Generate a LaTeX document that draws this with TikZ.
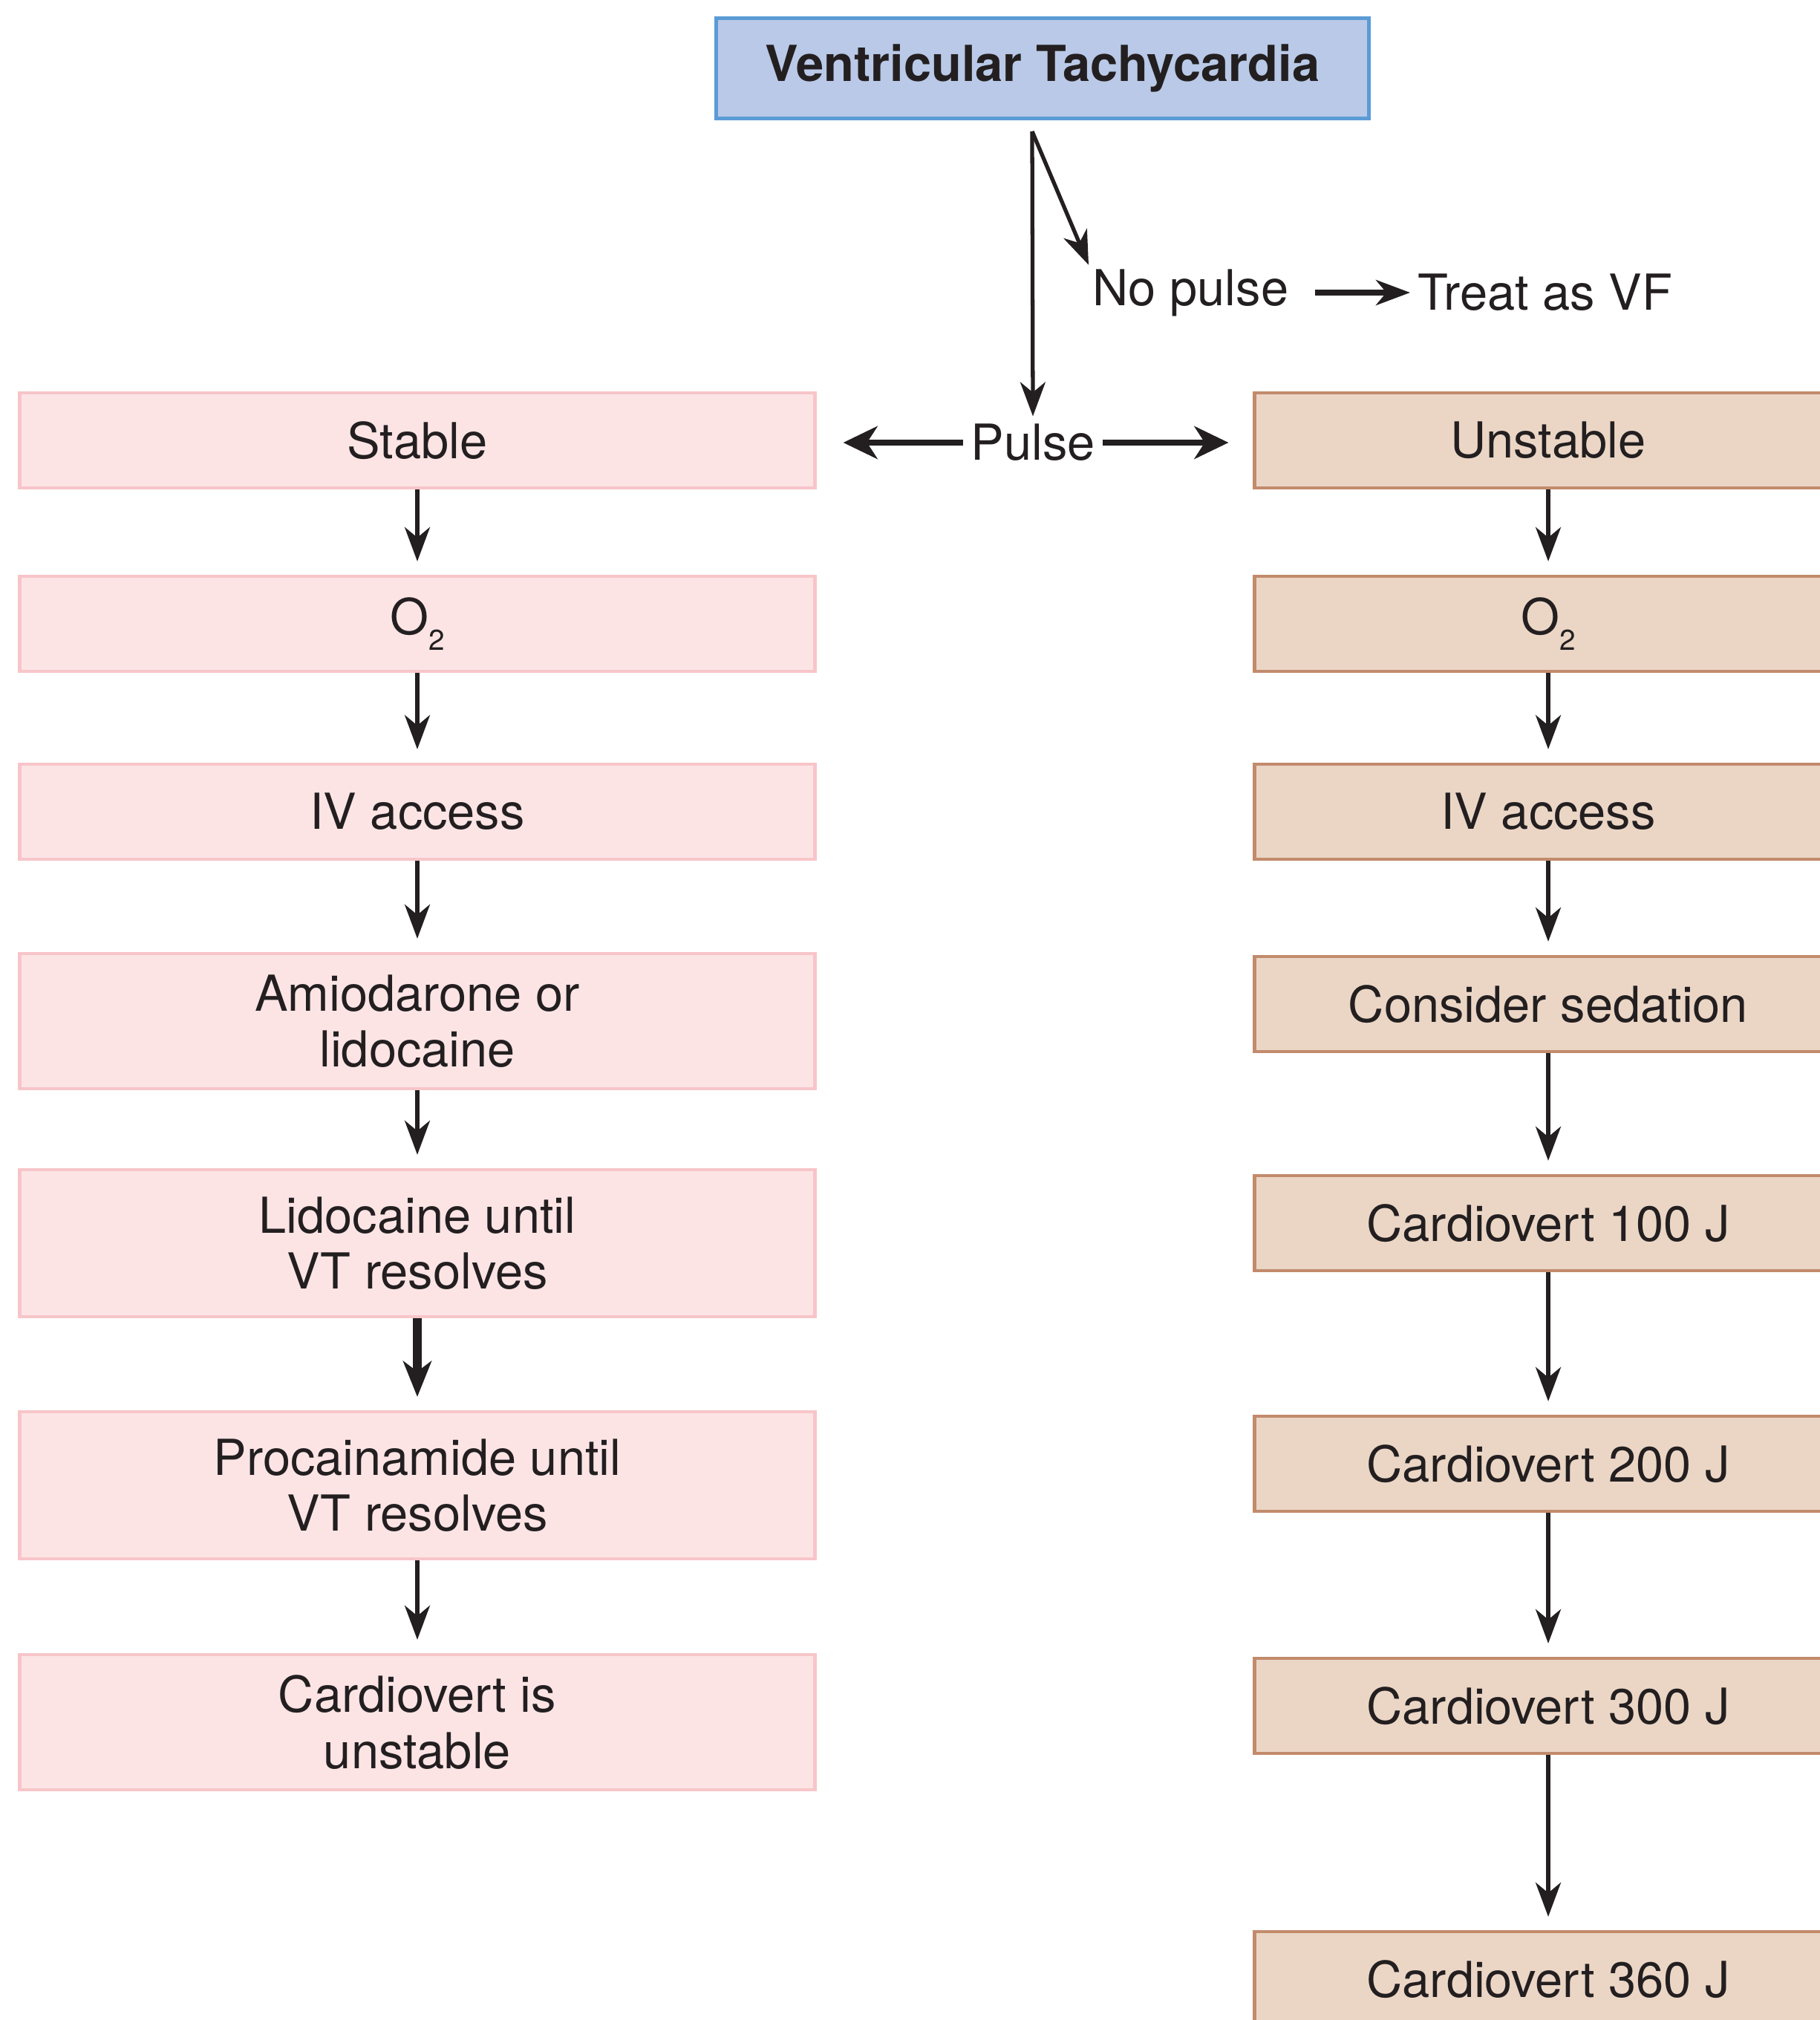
\documentclass[tikz,border=0pt]{standalone}
\usepackage{fontspec}
\setmainfont{TeX Gyre Heros}
\usepackage{tikz}
\usetikzlibrary{arrows.meta,calc}
\definecolor{tbfill}{HTML}{B9C9E7}
\definecolor{tbdraw}{HTML}{5B9BD5}
\definecolor{stfill}{HTML}{FCE4E5}
\definecolor{stdraw}{HTML}{F7C5C9}
\definecolor{unfill}{HTML}{EBD6C6}
\definecolor{undraw}{HTML}{C28B6C}
\definecolor{ink}{HTML}{231F20}
\newcommand{\oxy}{O\raisebox{-6pt}{\fontsize{11}{11}\selectfont 2}}
\tikzstyle{title} = [rectangle, minimum width=8.79cm, minimum height=1.35cm, text centered, draw=tbdraw, fill=tbfill, line width=1.2pt, font=\fontsize{19}{21.5}\selectfont\bfseries]
\tikzstyle{stbox} = [rectangle, minimum width=10.71cm, minimum height=1.28cm, align=center, draw=stdraw, fill=stfill, line width=1.2pt]
\tikzstyle{unbox} = [rectangle, minimum width=7.91cm, minimum height=1.28cm, align=center, draw=undraw, fill=unfill, line width=1.2pt]
\tikzstyle{arr} = [-{Stealth[length=4.6mm,width=3.4mm,inset=1.4mm]}, draw=ink, line width=1.5pt]

\begin{document}
\begin{tikzpicture}[font=\fontsize{19}{21.5}\selectfont, text=ink]
				\useasboundingbox (0,0) rectangle (24.5,-27.2);
				\node[title] (vt) at (14.04,-0.92) {Ventricular Tachycardia};
				\node[inner sep=1mm] (pulse) at (13.91,-5.96) {Pulse};
				\node[anchor=west, inner sep=0.5mm] (nopulse) at (14.66,-3.94) {No pulse};
				\node[anchor=west, inner sep=0.5mm] (vf) at (19.04,-3.94) {Treat as VF};
				\coordinate (split) at (13.90,-1.77);
				
				\node[stbox] (st1) at (5.62,-5.93) {Stable};
				\node[stbox] (st2) at (5.62,-8.40) {\oxy};
				\node[stbox] (st3) at (5.62,-10.93) {IV access};
				\node[stbox, minimum height=1.82cm] (st4) at (5.62,-13.75) {Amiodarone or\\lidocaine};
				\node[stbox, minimum height=1.98cm] (st5) at (5.62,-16.74) {Lidocaine until\\VT resolves};
				\node[stbox, minimum height=1.98cm] (st6) at (5.62,-20.00) {Procainamide until\\VT resolves};
				\node[stbox, minimum height=1.82cm] (st7) at (5.62,-23.19) {Cardiovert is\\unstable};
				
				\node[unbox] (un1) at (20.85,-5.93) {Unstable};
				\node[unbox] (un2) at (20.85,-8.40) {\oxy};
				\node[unbox] (un3) at (20.85,-10.93) {IV access};
				\node[unbox] (un4) at (20.85,-13.52) {Consider sedation};
				\node[unbox] (un5) at (20.85,-16.47) {Cardiovert 100 J};
				\node[unbox] (un6) at (20.85,-19.71) {Cardiovert 200 J};
				\node[unbox] (un7) at (20.85,-22.97) {Cardiovert 300 J};
				\node[unbox] (un8) at (20.85,-26.65) {Cardiovert 360 J};
				
				\draw[arr] (split) -- (pulse.north);
				\draw[arr] (split) -- (nopulse.north west);
				\draw[arr, line width=2pt] ([xshift=3mm]nopulse.east) -- ([xshift=-0.5mm]vf.west |- nopulse.east);
				\draw[arr, line width=2.2pt, -{Stealth[length=4.6mm,width=4.4mm,inset=1.4mm]}] (pulse.west) -- ([xshift=3.6mm]st1.east |- pulse.west);
				\draw[arr, line width=2.2pt, -{Stealth[length=4.6mm,width=4.4mm,inset=1.4mm]}] (pulse.east) -- ([xshift=-3.3mm]un1.west |- pulse.east);
				
				\draw[arr] (st1.south) -- ([yshift=1.8mm]st2.north);
				\draw[arr] (st2.south) -- ([yshift=1.8mm]st3.north);
				\draw[arr] (st3.south) -- ([yshift=1.8mm]st4.north);
				\draw[arr] (st4.south) -- ([yshift=1.8mm]st5.north);
				\draw[arr, line width=3.2pt, -{Stealth[length=4.8mm,width=3.8mm,inset=1.4mm]}] (st5.south) -- ([yshift=1.8mm]st6.north);
				\draw[arr] (st6.south) -- ([yshift=1.8mm]st7.north);
				
				\draw[arr] (un1.south) -- ([yshift=1.8mm]un2.north);
				\draw[arr] (un2.south) -- ([yshift=1.8mm]un3.north);
				\draw[arr] (un3.south) -- ([yshift=1.8mm]un4.north);
				\draw[arr] (un4.south) -- ([yshift=1.8mm]un5.north);
				\draw[arr] (un5.south) -- ([yshift=1.8mm]un6.north);
				\draw[arr] (un6.south) -- ([yshift=1.8mm]un7.north);
				\draw[arr] (un7.south) -- ([yshift=1.8mm]un8.north);
			\end{tikzpicture}
\end{document}
